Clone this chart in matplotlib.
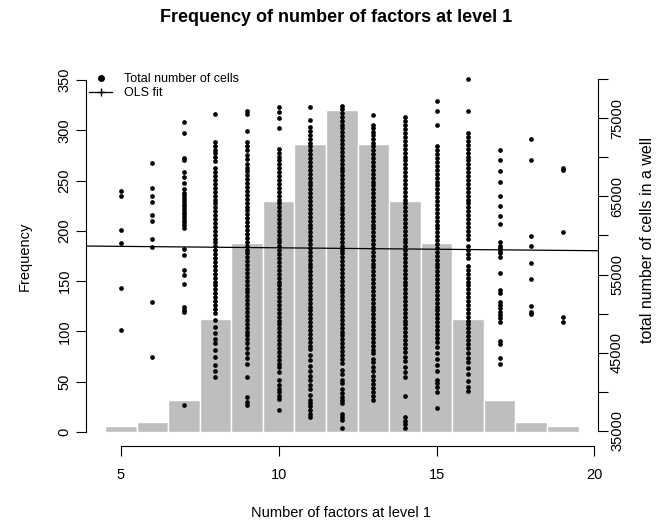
import numpy as np
import matplotlib.pyplot as plt
from matplotlib.lines import Line2D

plt.rcParams['font.family'] = ['Liberation Sans', 'DejaVu Sans']
plt.rcParams['font.size'] = 10.5

# histogram of how many factors sit at level 1 in each well
factors = [5, 6, 7, 8, 9, 10, 11, 12, 13, 14, 15, 16, 17, 18, 19]
freq = [6, 10, 32, 112, 188, 230, 286, 320, 286, 230, 188, 112, 32, 10, 6]

# total number of cells per well (thousands), grouped by factor count
cells_5 = [65.73, 65.09, 60.65, 59.07, 53.31, 47.89]
cells_6 = [69.31, 66.11, 65.09, 64.32, 62.66, 61.80, 59.50, 58.47, 51.43, 44.39]
cells_7 = [74.48, 73.07, 69.96, 69.66, 68.16, 67.52, 66.75, 65.99, 65.47, 65.17,
           64.75, 64.41, 64.06, 63.72, 63.38, 63.04, 62.70, 62.36, 62.02, 61.68,
           61.33, 60.91, 58.22, 57.49, 55.57, 54.93, 53.78, 50.88, 50.45, 50.15,
           38.29]
cells_8 = [75.5, 72.0, 71.5, 71.0, 70.5, 70.0, 69.5, 68.6, 68.1, 67.6, 67.1, 66.6,
           66.1, 65.6, 65.1, 64.6, 64.1, 63.6, 63.1, 62.6, 62.1, 61.6, 61.1, 60.6,
           60.1, 59.6, 59.1, 58.6, 58.1, 57.6, 57.1, 56.6, 56.1, 55.6, 55.1, 54.6,
           54.1, 53.6, 53.1, 52.6, 52.1, 51.6, 51.1, 50.6, 50.1, 49.2, 48.3, 47.5,
           46.8, 46.2, 45.3, 44.5, 43.4, 42.6, 41.9]
cells_9 = [75.9, 75.5, 73.4, 72.0, 71.4, 70.9, 70.3, 69.8, 69.2, 68.7, 68.2, 67.7,
           67.2, 66.7, 66.2, 65.7, 65.2, 64.7, 64.2, 63.7, 63.2, 62.7, 62.2, 61.7,
           61.2, 60.7, 60.2, 59.7, 59.2, 58.7, 58.2, 57.7, 57.2, 56.7, 56.2, 55.7,
           55.2, 54.7, 54.2, 53.7, 53.2, 52.7, 52.2, 51.7, 51.2, 50.7, 50.2, 49.7,
           49.2, 48.7, 48.2, 47.7, 47.2, 46.7, 46.2, 45.6, 45.0, 44.3, 43.6, 41.9,
           39.3, 38.7, 38.3]
cells_10 = [76.5, 75.8, 75.0, 73.7, 71.1, 70.6, 70.1, 69.6, 69.1, 68.6, 68.1, 67.6,
            67.1, 66.6, 66.1, 65.6, 65.1, 64.6, 64.1, 63.6, 63.1, 62.6, 62.1, 61.6,
            61.1, 60.6, 60.1, 59.6, 59.1, 58.6, 58.1, 57.6, 57.1, 56.6, 56.1, 55.6,
            55.1, 54.6, 54.1, 53.6, 53.1, 52.6, 52.1, 51.6, 51.1, 50.6, 50.1, 49.6,
            49.1, 48.6, 48.1, 47.6, 47.1, 46.6, 46.1, 45.6, 45.1, 44.6, 44.1, 43.6,
            43.1, 42.5, 41.5, 40.9, 40.4, 39.9, 39.4, 39.0, 37.7]
cells_11 = [76.5, 74.8, 73.9, 73.4, 72.9, 72.4, 71.9, 71.4, 70.9, 70.4, 69.9, 69.4,
            68.9, 68.4, 67.9, 67.4, 66.9, 66.4, 65.9, 65.4, 64.9, 64.4, 63.9, 63.4,
            62.9, 62.4, 61.9, 61.4, 60.9, 60.4, 59.9, 59.4, 58.9, 58.4, 57.9, 57.4,
            56.9, 56.4, 55.9, 55.4, 54.9, 54.4, 53.9, 53.4, 52.9, 52.4, 51.9, 51.4,
            50.9, 50.4, 49.9, 49.4, 48.9, 48.4, 47.9, 47.4, 46.9, 46.4, 45.9, 45.4,
            44.7, 44.0, 43.3, 42.6, 42.0, 41.5, 40.85, 40.4, 39.6, 38.9, 38.5, 38.1,
            37.6, 37.2, 36.8]
cells_12 = [76.6, 76.2, 75.7, 75.2, 74.7, 74.2, 73.7, 73.2, 72.7, 72.2, 71.7, 71.2,
            70.7, 70.2, 69.7, 69.2, 68.7, 68.2, 67.7, 67.2, 66.7, 66.2, 65.7, 65.2,
            64.7, 64.2, 63.7, 63.2, 62.7, 62.2, 61.7, 61.2, 60.7, 60.2, 59.7, 59.2,
            58.7, 58.2, 57.7, 57.2, 56.7, 56.2, 55.7, 55.2, 54.7, 54.2, 53.7, 53.2,
            52.7, 52.2, 51.7, 51.2, 50.7, 50.2, 49.7, 49.2, 48.7, 48.2, 47.7, 47.2,
            46.7, 46.2, 45.7, 45.2, 44.7, 44.2, 43.7, 42.8, 42.2, 41.5, 41.1, 40.4,
            39.8, 39.35, 38.9, 38.6, 37.2, 36.8, 36.4, 35.3]
cells_13 = [75.4, 74.1, 73.7, 73.3, 72.9, 72.4, 71.9, 71.4, 70.9, 70.4, 69.9, 69.4,
            68.9, 68.4, 67.9, 67.4, 66.9, 66.4, 65.9, 65.4, 64.9, 64.4, 63.9, 63.4,
            62.9, 62.4, 61.9, 61.4, 60.9, 60.4, 59.9, 59.4, 58.9, 58.4, 57.9, 57.4,
            56.9, 56.4, 55.9, 55.4, 54.9, 54.4, 53.9, 53.4, 52.9, 52.4, 51.9, 51.4,
            50.9, 50.4, 49.9, 49.4, 48.9, 48.4, 47.9, 47.4, 46.9, 46.4, 45.8, 45.3,
            44.9, 44.2, 43.8, 43.1, 42.7, 42.0, 41.5, 41.0, 40.5, 39.9, 39.5, 38.9]
cells_14 = [75.2, 74.6, 74.1, 73.6, 73.1, 72.6, 72.1, 71.6, 71.1, 70.6, 70.1, 69.6,
            69.1, 68.6, 68.1, 67.6, 67.1, 66.6, 66.1, 65.6, 65.1, 64.6, 64.1, 63.6,
            63.1, 62.6, 62.1, 61.6, 61.1, 60.6, 60.1, 59.6, 59.1, 58.6, 58.1, 57.6,
            57.1, 56.6, 56.1, 55.6, 55.1, 54.6, 54.1, 53.6, 53.1, 52.6, 52.1, 51.6,
            51.1, 50.6, 50.1, 49.6, 49.1, 48.6, 48.1, 47.6, 47.1, 46.6, 46.1, 45.6,
            45.1, 44.5, 43.9, 43.2, 42.5, 41.9, 39.4, 36.7, 36.3, 35.9, 35.4]
cells_15 = [77.2, 75.9, 74.2, 71.4, 70.9, 70.4, 69.9, 69.4, 68.9, 68.4, 67.9, 67.4,
            66.9, 66.4, 65.9, 65.4, 64.9, 64.4, 63.9, 63.4, 62.9, 62.4, 61.9, 61.4,
            60.9, 60.4, 59.9, 59.4, 58.9, 58.4, 57.9, 57.4, 56.9, 56.4, 55.9, 55.4,
            54.9, 54.4, 53.9, 53.4, 52.9, 52.4, 51.9, 51.4, 50.9, 50.4, 49.9, 49.4,
            48.9, 48.4, 47.9, 47.4, 46.9, 46.3, 45.7, 45.0, 44.2, 43.4, 42.6, 41.5,
            41.1, 40.6, 39.9, 37.9]
cells_16 = [80.0, 75.9, 73.1, 72.6, 72.1, 71.6, 71.1, 70.6, 70.1, 69.6, 69.1, 68.6,
            68.1, 67.6, 67.1, 66.6, 66.1, 65.6, 65.1, 64.6, 64.1, 63.6, 63.1, 62.6,
            62.1, 61.6, 61.1, 60.6, 60.1, 59.6, 58.6, 58.1, 57.6, 57.1, 56.1, 55.6,
            55.1, 54.6, 54.1, 53.6, 53.1, 52.6, 52.1, 51.6, 51.1, 50.6, 50.1, 49.6,
            49.1, 48.6, 48.1, 47.6, 47.1, 46.6, 46.1, 45.6, 44.9, 44.3, 43.8, 43.0,
            42.3, 41.4, 40.6, 40.1]
cells_17 = [71.0, 69.7, 68.3, 66.8, 65.1, 63.8, 62.5, 61.5, 59.1, 58.7, 58.4, 58.05,
            57.7, 57.3, 55.15, 53.0, 52.6, 51.5, 51.1, 50.7, 50.2, 49.8, 49.4, 48.9,
            46.5, 46.1, 44.3, 43.6]
cells_18 = [72.3, 69.7, 59.9, 58.6, 56.5, 54.4, 51.0, 50.2, 49.9]
cells_19 = [68.6, 68.4, 60.5, 49.6, 48.95]

cells = [cells_5, cells_6, cells_7, cells_8, cells_9, cells_10, cells_11,
         cells_12, cells_13, cells_14, cells_15, cells_16, cells_17, cells_18,
         cells_19]

# OLS fit of total cells on number of factors
ols_intercept = 58790
ols_slope = -37

freq_ticks = [0, 50, 100, 150, 200, 250, 300, 350]
x_ticks = [5, 10, 15, 20]
cell_ticks = [35000, 40000, 45000, 50000, 55000, 60000, 65000, 70000, 75000, 80000]
cell_labels = ['35000', '', '45000', '', '55000', '', '65000', '', '75000', '']

fig = plt.figure(figsize=(6.63, 5.22), dpi=100)
ax = fig.add_axes([86 / 663, 76 / 522, 511.6 / 663, 380 / 522])

ax.bar(factors, freq, width=1.0, color='#bebebe', edgecolor='white', linewidth=1.0)
ax.set_xlim(3.9, 20.1)
ax.set_ylim(-14, 364)
ax.set_xticks(x_ticks)
ax.set_yticks(freq_ticks)
for s in ['top', 'right']:
    ax.spines[s].set_visible(False)
ax.spines['left'].set_bounds(0, 350)
ax.spines['bottom'].set_bounds(5, 20)
ax.tick_params(axis='y', length=7, width=0.8, pad=3.5, labelrotation=90)
ax.tick_params(axis='x', length=7, width=0.8, pad=9)
for lab in ax.get_yticklabels():
    lab.set_va('center')

ax2 = ax.twinx()
for k, vals in zip(factors, cells):
    ax2.plot(np.full(len(vals), k), np.array(vals) * 1000, 'o', color='black',
             ms=3.4, mew=0, zorder=3)
ax2.axline((0, ols_intercept), slope=ols_slope, color='black', lw=0.9, zorder=4)
ax2.set_ylim(33040, 81700)
ax2.set_yticks(cell_ticks)
ax2.set_yticklabels(cell_labels)
for s in ['top', 'left', 'bottom']:
    ax2.spines[s].set_visible(False)
ax2.spines['right'].set_bounds(35000, 80000)
ax2.tick_params(axis='y', length=7, width=0.8, pad=2, labelrotation=90)
for lab in ax2.get_yticklabels():
    lab.set_va('center')

handles = [Line2D([], [], marker='o', color='black', ls='none', ms=5, mew=0),
           Line2D([], [], marker='+', color='black', ls='-', lw=0.9, ms=6)]
ax2.legend(handles, ['Total number of cells', 'OLS fit'], loc='upper left',
           bbox_to_anchor=(89 / 663, 1 - 73 / 522), bbox_transform=fig.transFigure,
           frameon=False, fontsize=9, handlelength=1.84, handletextpad=0.96,
           labelspacing=0.15, borderpad=0, borderaxespad=0)

fig.text(336 / 663, 1 - 18 / 522, 'Frequency of number of factors at level 1',
         ha='center', va='center', fontsize=13, fontweight='bold')
fig.text(341.5 / 663, 1 - 513 / 522, 'Number of factors at level 1',
         ha='center', va='center')
fig.text(25 / 663, 1 - 256 / 522, 'Frequency', ha='center', va='center',
         rotation=90)
fig.text(648 / 663, 1 - 240 / 522, 'total number of cells in a well',
         ha='center', va='center', rotation=90, fontsize=11.5)

fig.savefig('out.png', dpi=100)
